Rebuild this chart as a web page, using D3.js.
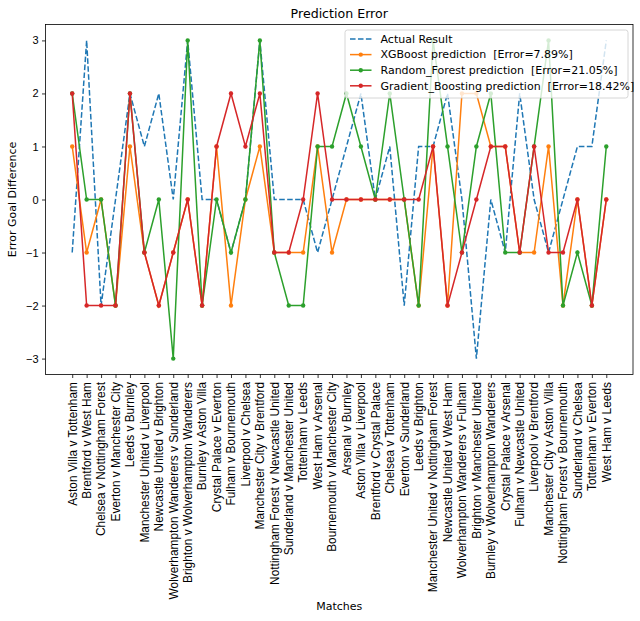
<!DOCTYPE html>
<html>
<head>
<meta charset="utf-8">
<title>Prediction Error</title>
<style>
  body { margin: 0; background: #fff; }
  svg { font-family: "DejaVu Sans", sans-serif; }
  .axis path, .axis line { stroke: #000; stroke-width: 0.8; }
  .axis text { fill: #000; }
</style>
</head>
<body>
<script src="https://cdn.jsdelivr.net/npm/d3@7"></script>
<script>

var matches = [
  "Aston Villa v Tottenham", "Brentford v West Ham", "Chelsea v Nottingham Forest",
  "Everton v Manchester City", "Leeds v Burnley", "Manchester United v Liverpool",
  "Newcastle United v Brighton", "Wolverhampton Wanderers v Sunderland",
  "Brighton v Wolverhampton Wanderers", "Burnley v Aston Villa", "Crystal Palace v Everton",
  "Fulham v Bournemouth", "Liverpool v Chelsea", "Manchester City v Brentford",
  "Nottingham Forest v Newcastle United", "Sunderland v Manchester United",
  "Tottenham v Leeds", "West Ham v Arsenal", "Bournemouth v Manchester City",
  "Arsenal v Burnley", "Aston Villa v Liverpool", "Brentford v Crystal Palace",
  "Chelsea v Tottenham", "Everton v Sunderland", "Leeds v Brighton",
  "Manchester United v Nottingham Forest", "Newcastle United v West Ham",
  "Wolverhampton Wanderers v Fulham", "Brighton v Manchester United",
  "Burnley v Wolverhampton Wanderers", "Crystal Palace v Arsenal",
  "Fulham v Newcastle United", "Liverpool v Brentford", "Manchester City v Aston Villa",
  "Nottingham Forest v Bournemouth", "Sunderland v Chelsea", "Tottenham v Everton",
  "West Ham v Leeds"
];

var actual = [-1, 3, -2, 0, 2, 1, 2, 0, 3, 0, 0, -1, 0, 3, 0, 0, 0, -1, 0, 1,
  2, 0, 1, -2, 1, 1, 2, 0, -3, 0, -1, 2, 0, -1, 0, 1, 1, 3];
var xgb = [1, -1, 0, -2, 1, -1, -2, -1, 0, -2, 1, -2, 0, 1, -1, -1, -1, 1, -1, 0,
  0, 0, 0, 0, -2, 1, -2, 2, 2, 1, 1, -1, -1, 1, -2, 0, -2, 0];
var rf = [2, 0, 0, -2, 2, -1, 0, -3, 3, -2, 0, -1, 0, 3, -1, -2, -2, 1, 1, 2,
  1, 0, 2, 0, -2, 3, 1, -1, 1, 2, -1, -1, 1, 3, -2, -1, -2, 1];
var gb = [2, -2, -2, -2, 2, -1, -2, -1, 0, -2, 1, 2, 1, 2, -1, -1, 0, 2, 0, 0,
  0, 0, 0, 0, 0, 1, -2, -1, 0, 1, 1, -1, 1, -1, -1, 0, -2, 0];

var yTicks = [-3, -2, -1, 0, 1, 2, 3];

var series = [
  {name: "Actual Result", values: actual, color: "#1f77b4", dash: "5.55,2.4", marker: false},
  {name: "XGBoost prediction  [Error=7.89%]", values: xgb, color: "#ff7f0e", dash: null, marker: true},
  {name: "Random_Forest prediction  [Error=21.05%]", values: rf, color: "#2ca02c", dash: null, marker: true},
  {name: "Gradient_Boosting prediction  [Error=18.42%]", values: gb, color: "#d62728", dash: null, marker: true}
];

var w = 640, h = 621;
var plot = {x0: 45.5, x1: 633, y0: 24.5, y1: 374.5};

var n = matches.length;
var xScale = d3.scaleLinear()
  .domain([-0.05 * (n - 1), (n - 1) * 1.05])
  .range([plot.x0, plot.x1]);

var yScale = d3.scaleLinear()
  .domain([-3.3, 3.3])
  .range([plot.y1, plot.y0]);

var svg = d3.select("body").append("svg")
  .attr("width", w)
  .attr("height", h);

// axes
var xAxis = d3.axisBottom(xScale)
  .tickValues(d3.range(n))
  .tickFormat(function(i){ return matches[i]; })
  .tickSize(3.5)
  .tickPadding(3.5);

var gx = svg.append("g")
  .attr("class", "axis")
  .attr("transform", "translate(0," + plot.y1 + ")")
  .call(xAxis);
gx.select(".domain").remove();
gx.selectAll("text")
  .style("font-size", "11.9px")
  .attr("transform", "rotate(-90)")
  .attr("x", -7.5)
  .attr("y", 0)
  .attr("dy", "0.32em")
  .style("text-anchor", "end");

var yAxis = d3.axisLeft(yScale)
  .tickValues(yTicks)
  .tickFormat(d3.format("d"))
  .tickSize(3.5)
  .tickPadding(3.5);

var gy = svg.append("g")
  .attr("class", "axis")
  .attr("transform", "translate(" + plot.x0 + ",0)")
  .call(yAxis);
gy.select(".domain").remove();
gy.selectAll("text").style("font-size", "11px");

// lines
var line = d3.line()
  .x(function(d, i){ return xScale(i); })
  .y(function(d){ return yScale(d); });

series.forEach(function(s){
  var g = svg.append("g");
  g.append("path")
    .attr("d", line(s.values))
    .attr("fill", "none")
    .attr("stroke", s.color)
    .attr("stroke-width", 1.5)
    .attr("stroke-dasharray", s.dash);
  if (s.marker) {
    g.selectAll("circle")
      .data(s.values)
      .enter().append("circle")
      .attr("cx", function(d, i){ return xScale(i); })
      .attr("cy", function(d){ return yScale(d); })
      .attr("r", 2.2)
      .attr("fill", s.color);
  }
});

// frame
svg.append("rect")
  .attr("x", plot.x0)
  .attr("y", plot.y0)
  .attr("width", plot.x1 - plot.x0)
  .attr("height", plot.y1 - plot.y0)
  .attr("fill", "none")
  .attr("stroke", "#000")
  .attr("stroke-width", 0.8);

// title & labels
svg.append("text")
  .attr("x", (plot.x0 + plot.x1) / 2)
  .attr("y", 18)
  .attr("text-anchor", "middle")
  .style("font-size", "12.6px")
  .text("Prediction Error");

svg.append("text")
  .attr("x", (plot.x0 + plot.x1) / 2)
  .attr("y", 610)
  .attr("text-anchor", "middle")
  .style("font-size", "11px")
  .text("Matches");

svg.append("text")
  .attr("transform", "translate(16," + ((plot.y0 + plot.y1) / 2) + ") rotate(-90)")
  .attr("text-anchor", "middle")
  .style("font-size", "11px")
  .text("Error Goal Difference");

// legend
var legend = svg.append("g")
  .attr("transform", "translate(345,30)");

legend.append("rect")
  .attr("width", 283)
  .attr("height", 68)
  .attr("rx", 2.5)
  .attr("fill", "#fff")
  .attr("fill-opacity", 0.8)
  .attr("stroke", "#cccccc")
  .attr("stroke-width", 0.8);

var items = legend.selectAll(".item")
  .data(series)
  .enter().append("g")
  .attr("class", "item")
  .attr("transform", function(d, i){ return "translate(0," + (9 + i * 15.6) + ")"; });

items.append("line")
  .attr("x1", 5)
  .attr("x2", 26.5)
  .attr("stroke", function(d){ return d.color; })
  .attr("stroke-width", 1.5)
  .attr("stroke-dasharray", function(d){ return d.dash; });

items.filter(function(d){ return d.marker; })
  .append("circle")
  .attr("cx", 15.75)
  .attr("r", 2.2)
  .attr("fill", function(d){ return d.color; });

items.append("text")
  .attr("x", 35.5)
  .attr("dy", "0.35em")
  .style("font-size", "11px")
  .style("white-space", "pre")
  .attr("xml:space", "preserve")
  .text(function(d){ return d.name; });

</script>
</body>
</html>
